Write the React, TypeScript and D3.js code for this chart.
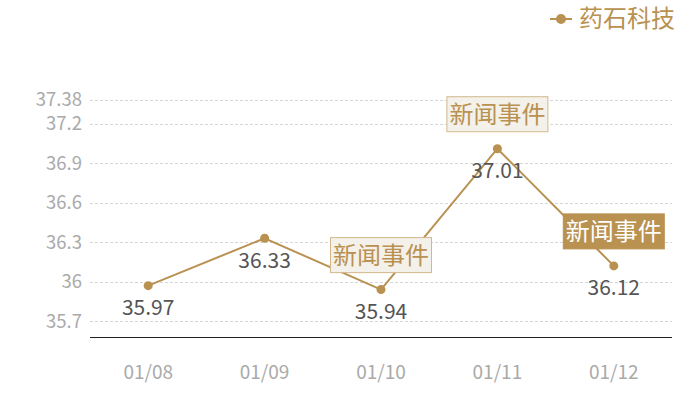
import React from "react";
import * as d3 from "d3";

const dates = ["01/08", "01/09", "01/10", "01/11", "01/12"];
const prices = [35.97, 36.33, 35.94, 37.01, 36.12];
const yTicks = [35.7, 36, 36.3, 36.6, 36.9, 37.2, 37.38];
const seriesName = "药石科技";
const eventLabel = "新闻事件";
// index of point, and whether the box is filled
const events = [
  { idx: 2, filled: false },
  { idx: 3, filled: false },
  { idx: 4, filled: true },
];

const W = 700;
const H = 400;
const gold = "#b99151";
const font = "'Noto Sans CJK SC', 'Noto Sans', sans-serif";

const x = d3.scaleBand().domain(dates).range([90, 672]);
const y = d3.scaleLinear().domain([35.58, 37.38]).range([337, 100]);
const cx = (d: string) => (x(d) as number) + x.bandwidth() / 2;
const crisp = (v: number) => Math.round(v) + 0.5;

const linePath = d3
  .line<number>()
  .x((_, i) => cx(dates[i]))
  .y((v) => y(v));

export default function App() {
  const boxW = 101;
  const boxH = 35;
  return (
    <svg
      width={W}
      height={H}
      style={{ position: "absolute", left: 0, top: 0, fontFamily: font }}
    >
      {/* grid */}
      {yTicks.map((t) => (
        <g key={t}>
          <line
            x1={90}
            x2={672}
            y1={crisp(y(t))}
            y2={crisp(y(t))}
            stroke="#d6d6d6"
            strokeDasharray="3,2"
          />
          <text
            x={82}
            y={y(t)}
            dy="0.35em"
            textAnchor="end"
            fontSize={18.5}
            fill="#aaaaaa"
          >
            {t}
          </text>
        </g>
      ))}
      <line x1={90} x2={672} y1={337.5} y2={337.5} stroke="#222" strokeWidth={1} />
      {dates.map((d) => (
        <text
          key={d}
          x={cx(d)}
          y={372}
          dy="0.35em"
          textAnchor="middle"
          fontSize={19}
          fill="#aaaaaa"
        >
          {d}
        </text>
      ))}

      <path d={linePath(prices) as string} fill="none" stroke={gold} strokeWidth={2} />
      {prices.map((v, i) => (
        <g key={i}>
          <circle cx={cx(dates[i])} cy={y(v)} r={4.5} fill={gold} />
          <text
            x={cx(dates[i])}
            y={y(v) + 22}
            dy="0.35em"
            textAnchor="middle"
            fontSize={21}
            fill="#555"
          >
            {v.toFixed(2)}
          </text>
        </g>
      ))}

      {events.map((e) => {
        const px = cx(dates[e.idx]);
        const py = y(prices[e.idx]);
        const top = py - 17 - boxH;
        return (
          <g key={e.idx}>
            <rect
              x={px - boxW / 2}
              y={top}
              width={boxW}
              height={boxH}
              fill={e.filled ? gold : "#f4f0ea"}
              stroke={e.filled ? gold : "#d2b98d"}
              strokeWidth={1}
            />
            <text
              x={px}
              y={top + boxH / 2}
              dy="0.35em"
              textAnchor="middle"
              fontSize={24}
              fill={e.filled ? "#fff" : gold}
            >
              {eventLabel}
            </text>
          </g>
        );
      })}

      {/* legend */}
      <line x1={550} x2={572} y1={19} y2={19} stroke={gold} strokeWidth={2} />
      <circle cx={561} cy={19} r={5} fill={gold} />
      <text x={579} y={19} dy="0.35em" fontSize={24} fill={gold}>
        {seriesName}
      </text>
    </svg>
  );
}
